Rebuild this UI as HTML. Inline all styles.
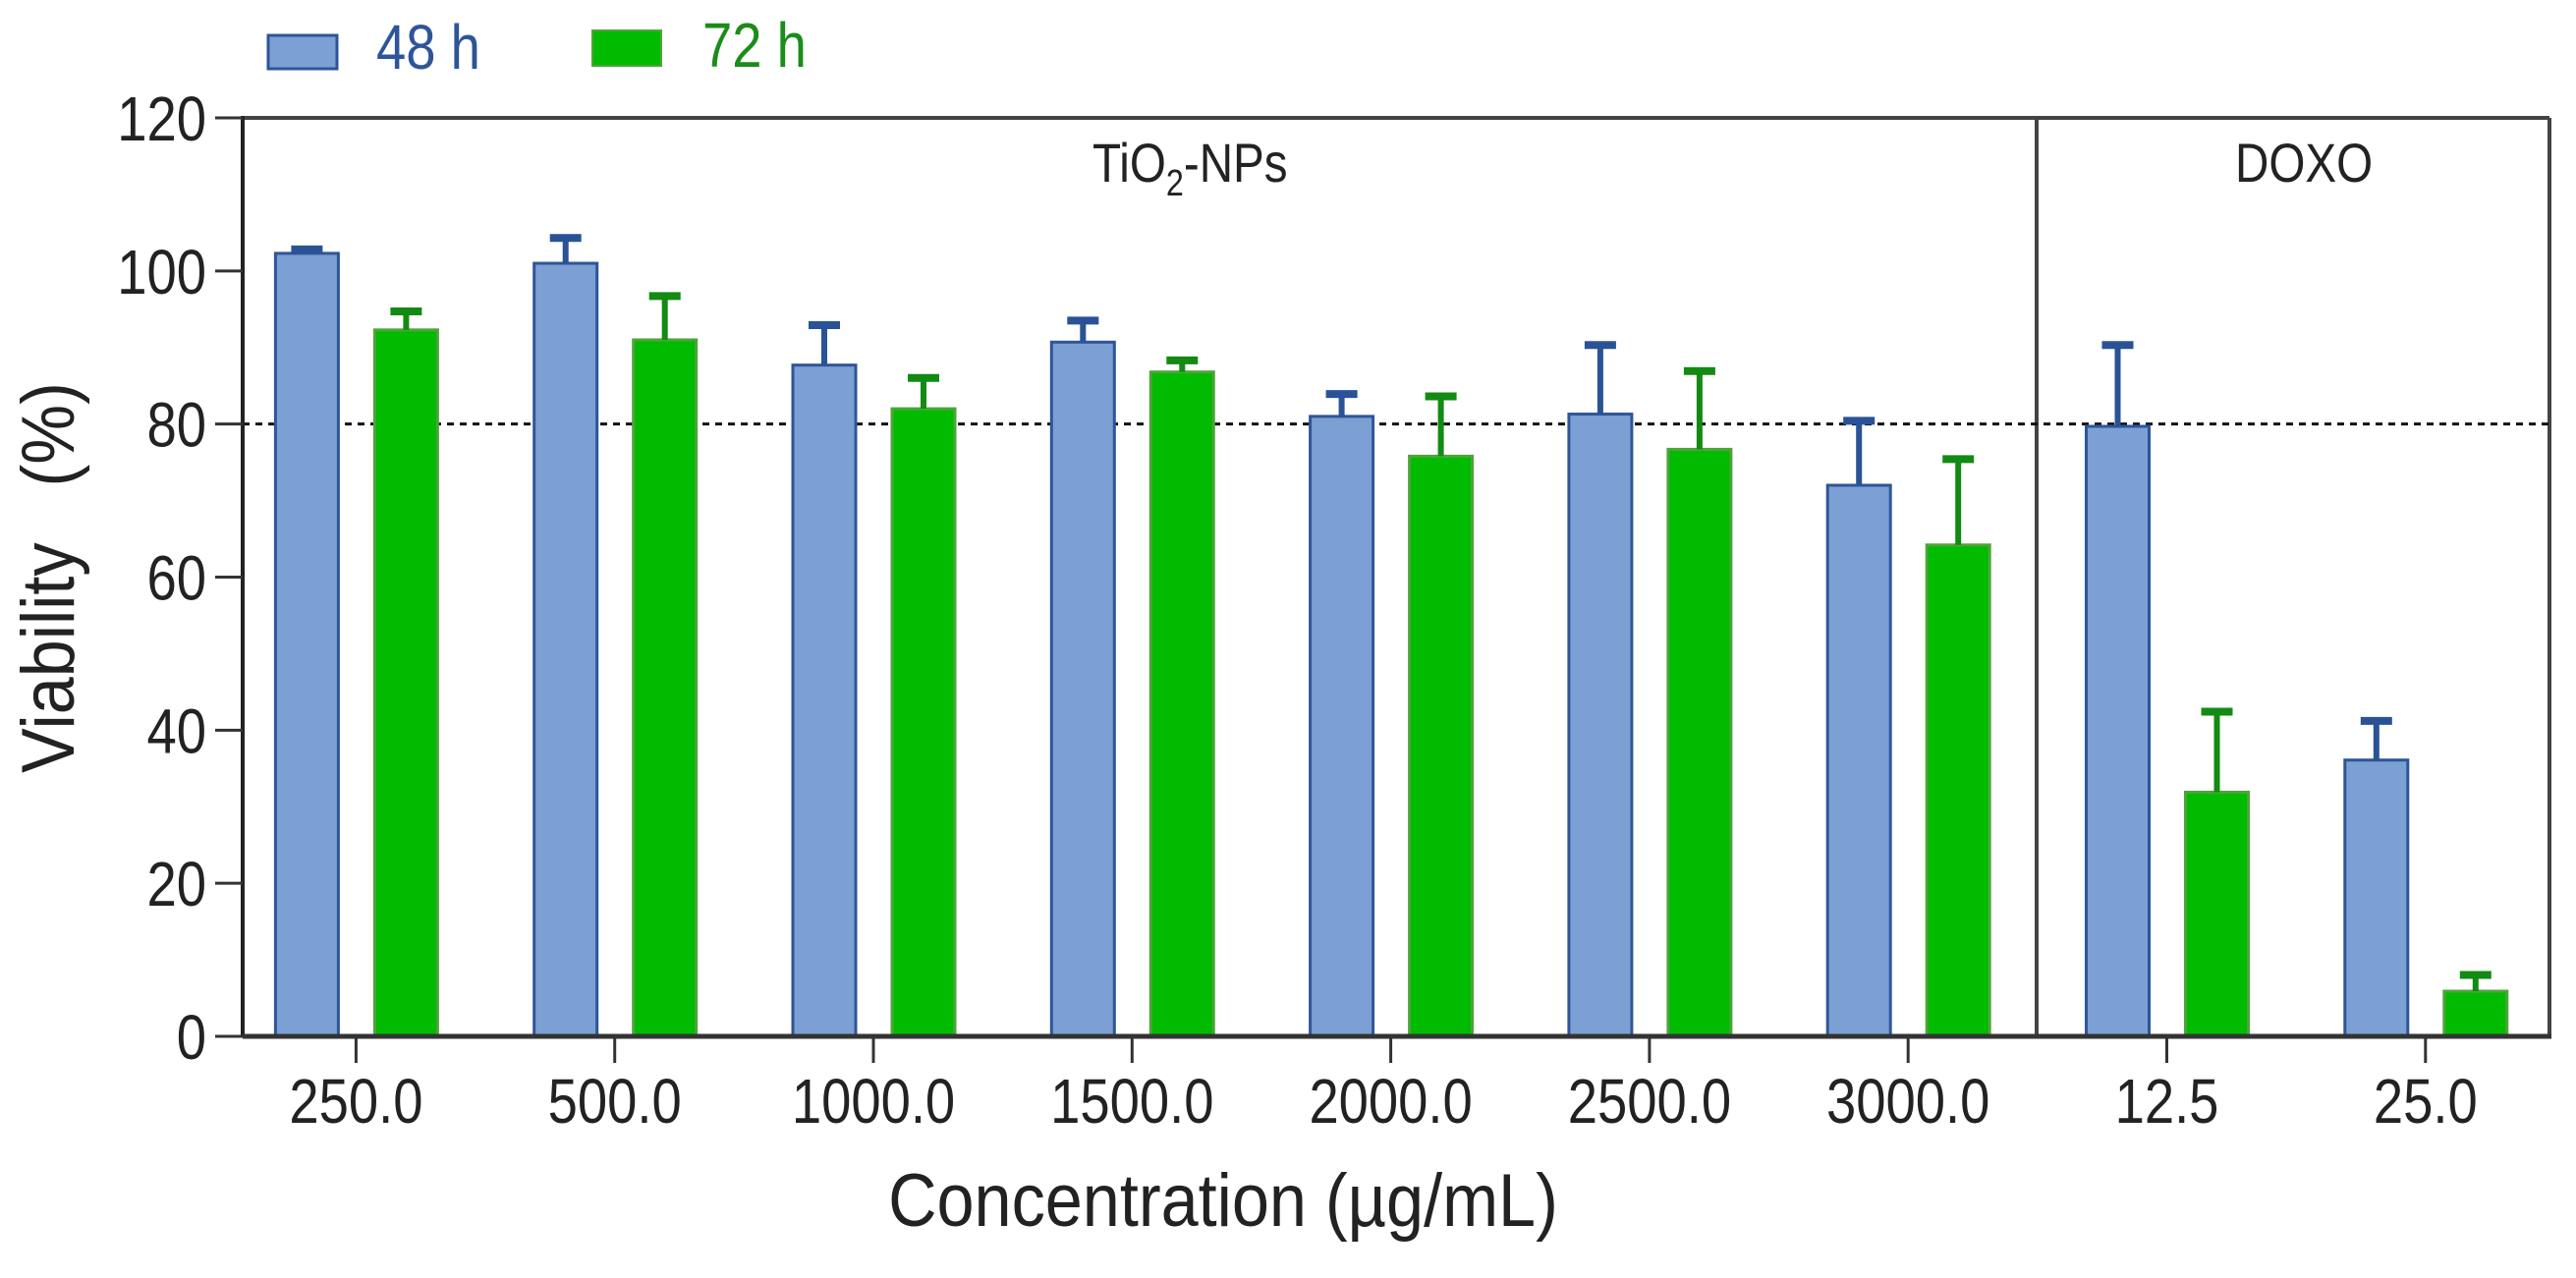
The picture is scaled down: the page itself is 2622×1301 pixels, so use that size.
<!DOCTYPE html>
<html><head><meta charset="utf-8"><style>
html,body{margin:0;padding:0;background:#fff;}
svg{display:block;font-family:"Liberation Sans",sans-serif;}
</style></head><body>
<svg id="chart" width="2622" height="1301" viewBox="0 0 2622 1301" xmlns="http://www.w3.org/2000/svg">
<g>
<rect x="273" y="36" width="70" height="34" fill="#7ca0d4" stroke="#2e5597" stroke-width="3"/>
<text x="383" y="70" font-size="64" fill="#2e5597" transform="translate(383 0) scale(0.85 1) translate(-383 0)">48 h</text>
<rect x="603" y="31" width="70" height="36" fill="#00bb00" stroke="#4ea43a" stroke-width="2"/>
<text x="715" y="68" font-size="64" fill="#1a8c1a" transform="translate(715 0) scale(0.85 1) translate(-715 0)">72 h</text>
</g>
<g id="plot"></g>
<text x="1112" y="185" font-size="56" fill="#222" transform="translate(1112 0) scale(0.85 1) translate(-1112 0)">TiO<tspan font-size="38" dy="14">2</tspan><tspan dy="-14">-NPs</tspan></text>
<text x="2275" y="185" font-size="56" fill="#222" transform="translate(2275 0) scale(0.85 1) translate(-2275 0)">DOXO</text>
<text x="0" y="0" font-size="76" fill="#222" text-anchor="middle" transform="translate(75 588) rotate(-90) scale(0.9 1)">Viability&#160;&#160;&#160;(%)</text>
<text x="1245" y="1248" font-size="76" fill="#222" text-anchor="middle" transform="translate(1245 0) scale(0.9 1) translate(-1245 0)">Concentration (µg/mL)</text>
</svg>
<script>
const categories = ["250.0","500.0","1000.0","1500.0","2000.0","2500.0","3000.0","12.5","25.0"];
const values48 = [102.3,101,87.7,90.7,81,81.3,72,79.7,36.1];
const err48 = [103.2,104.7,93.3,93.9,84.3,90.7,80.8,90.7,41.6];
const values72 = [92.3,91,82,86.8,75.8,76.7,64.2,31.9,5.9];
const err72 = [95.1,97.1,86.4,88.7,84,87.3,75.8,42.8,8.4];
const yTicks = [0,20,40,60,80,100,120];
const threshold = 80;

const NS="http://www.w3.org/2000/svg";
const plot=document.getElementById('plot');
const X0=247,X1=2595,DIV=2073,Y0=1055,Y120=120;
const y=v=>Y0-(v/120)*(Y0-Y120);
const xc=i=>362.4+263.3*i;
function mk(tag,attrs){const e=document.createElementNS(NS,tag);for(const k in attrs)e.setAttribute(k,attrs[k]);plot.appendChild(e);return e;}

let e;
e=mk('line',{x1:X0,y1:Y120,x2:X1,y2:Y120,stroke:'#444','stroke-width':4});


e=mk('line',{x1:X1,y1:Y120,x2:X1,y2:Y0,stroke:'#444','stroke-width':4});


e=mk('line',{x1:DIV,y1:Y120,x2:DIV,y2:Y0,stroke:'#444','stroke-width':4});



e=mk('line',{x1:X0,y1:y(threshold),x2:X1,y2:y(threshold),stroke:'#111','stroke-width':3,'stroke-dasharray':'7 6'});



function bar(i,v,er,dx,fill,stroke,capc,name){
  const x=xc(i)+dx-32;
  let r=mk('rect',{x:x,y:y(v),width:64,height:Y0-y(v),fill:fill,stroke:stroke,'stroke-width':3});
  
  
  let l=mk('line',{x1:x+32,y1:y(v),x2:x+32,y2:y(er),stroke:capc,'stroke-width':6});
  
  
  let c=mk('line',{x1:x+16,y1:y(er)+3,x2:x+48,y2:y(er)+3,stroke:capc,'stroke-width':8});
  
  
}
categories.forEach((c,i)=>{
  bar(i,values48[i],err48[i],-50,'#7ca0d4','#2e5597','#2a5296','series-48h');
  bar(i,values72[i],err72[i],51,'#00bb00','#4ea43a','#138a13','series-72h');
});

e=mk('line',{x1:X0,y1:Y120-2,x2:X0,y2:Y0,stroke:'#222','stroke-width':4});


e=mk('line',{x1:X0,y1:Y0,x2:X1+2,y2:Y0,stroke:'#333','stroke-width':5});



yTicks.forEach(t=>{
  let tk=mk('line',{x1:X0-28,y1:y(t),x2:X0,y2:y(t),stroke:'#333','stroke-width':3});
  
  
  let tx=mk('text',{x:0,y:0,'font-size':64,fill:'#222','text-anchor':'end',transform:'translate(210 '+(y(t)+23)+') scale(0.85 1)'});
  tx.textContent=t;
  
  
});
categories.forEach((c,i)=>{
  let tk=mk('line',{x1:xc(i),y1:Y0,x2:xc(i),y2:Y0+27,stroke:'#333','stroke-width':3});
  
  
  let tx=mk('text',{x:0,y:0,'font-size':64,fill:'#222','text-anchor':'middle',transform:'translate('+xc(i)+' 1143) scale(0.85 1)'});
  tx.textContent=c;
  
  
});
</script>
</body></html>
